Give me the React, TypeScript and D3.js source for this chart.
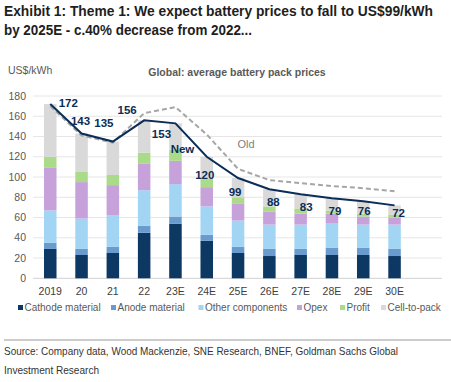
import React from "react";
import * as d3 from "d3";

const categories = ["2019", "20", "21", "22", "23E", "24E", "25E", "26E", "27E", "28E", "29E", "30E"];
const cathode = [29, 23, 25, 45, 54, 37, 25, 22, 23, 23, 23, 22];
const anode = [6, 6, 6, 7, 7, 6, 6, 7, 6, 7, 7, 7];
const otherComponents = [32, 30, 31, 35, 32, 28, 26, 24, 24, 24, 23, 24];
const opex = [42, 36, 30, 26, 23, 19, 17, 13, 11, 10, 8, 7];
const profit = [11, 10, 10, 11, 11, 8, 6, 5, 5, 3, 3, 3];
const cellToPack = [52, 38, 33, 32, 26, 22, 19, 17, 14, 12, 12, 9];
const newPrices = [172, 143, 135, 156, 153, 120, 99, 88, 83, 79, 76, 72];
const oldPrices = [170, 141, 134, 163, 169, 142, 108, 97, 94, 91, 89, 86];
const yTicks = [0, 20, 40, 60, 80, 100, 120, 140, 160, 180];
const seriesNames = ["Cathode material", "Anode material", "Other components", "Opex", "Profit", "Cell-to-pack"];

// label placement offsets (layout only)
const labelDx = [18, -1, -9, -17, -14, -2, -3, 4, 5.5, 3, 1, 4];
const labelDy = [3, -8.5, -14.5, -6, 15, 22, 18, 17, 17, 17, 14, 12];

const colors = ["#0c3863", "#6a9bcf", "#a2d4f3", "#c7a2da", "#aadb88", "#d9d9d9"];
const legendX = [18, 111, 198.5, 297, 340, 381];

export default function App() {
  const series = [cathode, anode, otherComponents, opex, profit, cellToPack];
  const rows = categories.map((c, i) => {
    const r: any = { cat: c };
    seriesNames.forEach((s, k) => (r[s] = series[k][i]));
    return r;
  });
  const stacked = d3.stack<any>().keys(seriesNames)(rows);

  const x = d3.scaleBand().domain(categories).range([34.6, 410.2]).paddingInner(0.6).paddingOuter(0.3);
  const y = d3.scaleLinear().domain([0, 180]).range([278.3, 96]);
  const cx = (c: string) => (x(c) as number) + x.bandwidth() / 2;

  const line = d3
    .line<number>()
    .x((_, i) => cx(categories[i]))
    .y((d) => y(d));

  const font = "'Liberation Sans', Arial, sans-serif";
  const sx = 0.8;

  return (
    <svg
      width={451}
      height={382}
      style={{ position: "absolute", left: 0, top: 0, background: "#fff" }}
      fontFamily={font}
    >
      <rect width={451} height={382} fill="#fff" />
      <g transform={`translate(4,16) scale(${sx},1)`}>
        <text x={0} y={0} fontWeight="bold" fontSize={15.5} fill="#1e1e1e" textLength={429 / sx} lengthAdjust="spacingAndGlyphs">
          Exhibit 1: Theme 1: We expect battery prices to fall to US$99/kWh
        </text>
        <text x={0} y={19.5} fontWeight="bold" fontSize={15.5} fill="#1e1e1e" textLength={248 / sx} lengthAdjust="spacingAndGlyphs">
          by 2025E - c.40% decrease from 2022...
        </text>
      </g>

      <text x={8} y={73.5} fontSize={10.5} fill="#595959">US$/kWh</text>
      <text x={237} y={76} fontSize={10.5} fontWeight="bold" fill="#595959" textAnchor="middle">
        Global: average battery pack prices
      </text>

      {yTicks.map((t) => (
        <g key={t}>
          <line x1={33} x2={442} y1={y(t)} y2={y(t)} stroke={t === 0 ? "#d0d0d0" : "#e6e6e6"} strokeWidth={1} />
          <text x={26} y={y(t) + 3.7} fontSize={10.5} fill="#595959" textAnchor="end">
            {t}
          </text>
        </g>
      ))}

      {stacked.map((s, k) => (
        <g key={s.key} fill={colors[k]}>
          {s.map((d, i) => (
            <rect
              key={i}
              x={x(categories[i])}
              width={x.bandwidth()}
              y={y(d[1])}
              height={y(d[0]) - y(d[1])}
            />
          ))}
        </g>
      ))}

      <path d={line(oldPrices) || ""} fill="none" stroke="#a6a6a6" strokeWidth={2} strokeDasharray="5,3" />
      <path d={line(newPrices) || ""} fill="none" stroke="#0b2d57" strokeWidth={2} />

      {newPrices.map((v, i) => (
        <text
          key={i}
          x={cx(categories[i]) + labelDx[i]}
          y={y(v) + labelDy[i]}
          fontSize={11.5}
          fontWeight="bold"
          fill="#0b2d57"
          textAnchor="middle"
        >
          {v}
        </text>
      ))}
      <text x={182.5} y={153} fontSize={11.5} fontWeight="bold" fill="#0b2d57" textAnchor="middle">New</text>
      <text x={246} y={148} fontSize={11} fill="#808080" textAnchor="middle">Old</text>

      {categories.map((c) => (
        <text key={c} x={cx(c)} y={295} fontSize={10.5} fill="#404040" textAnchor="middle">
          {c}
        </text>
      ))}

      {seriesNames.map((s, k) => (
        <g key={s}>
          <rect x={legendX[k]} y={305} width={5} height={5} fill={colors[k]} />
          <text x={legendX[k] + 6.5} y={311} fontSize={10} fill="#595959">
            {s}
          </text>
        </g>
      ))}

      <line x1={4} x2={451} y1={340} y2={340} stroke="#9a9a9a" strokeWidth={1} />
      <g transform={`translate(4,355) scale(0.85,1)`}>
        <text x={0} y={0} fontSize={11} fill="#333" textLength={394 / 0.85} lengthAdjust="spacingAndGlyphs">
          Source: Company data, Wood Mackenzie, SNE Research, BNEF, Goldman Sachs Global
        </text>
        <text x={0} y={19} fontSize={11} fill="#333" textLength={95 / 0.85} lengthAdjust="spacingAndGlyphs">
          Investment Research
        </text>
      </g>
    </svg>
  );
}
